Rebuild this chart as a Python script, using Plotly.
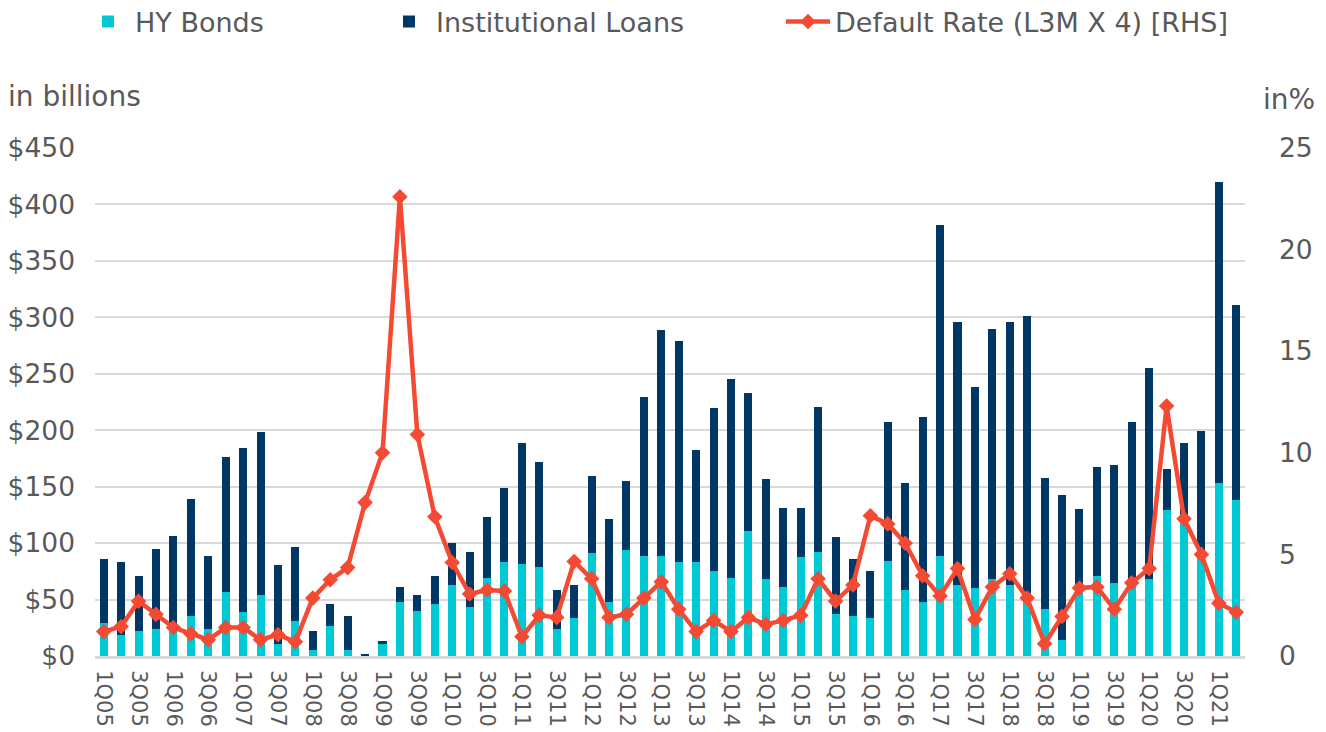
import plotly.graph_objects as go

quarters = [f"{q}Q{y:02d}" for y in range(5, 22) for q in range(1, 5)][:66]

total_issuance = [86, 83, 71, 95, 106, 139, 89, 176, 184, 198, 81, 97, 22, 46, 35, 2,
                  13.5, 61.5, 54, 71, 100, 92, 123, 149, 188.5, 172, 58.5, 63, 159.5, 121, 155, 229,
                  288.5, 279, 182.5, 219.5, 245.5, 233, 156.5, 131.5, 131.5, 220.5, 105.5, 85.5, 75, 207,
                  153.5, 212, 382, 295.5, 238, 290, 296, 301, 158, 143, 130.5, 167, 169, 207,
                  255, 165.5, 188.5, 199.5, 420, 311]
hy_bonds = [29, 19, 22, 23.5, 27, 35.5, 23.5, 57, 39, 54, 11, 31, 5, 26.5, 5, 0.5,
            11, 48, 40, 46.5, 63, 43, 69, 83, 81.5, 78.5, 23.5, 34, 91, 48, 94, 89,
            89, 83, 83, 75.5, 69.5, 110.5, 68, 61.5, 87.5, 92, 37, 35.5, 34, 84.5,
            58.5, 48, 89, 63, 60, 68, 63, 55.5, 42, 14, 58.5, 71, 64.5, 65,
            68, 129, 122, 90, 153.5, 138]
inst_loans = [round(t - h, 2) for t, h in zip(total_issuance, hy_bonds)]
default_rate = [1.2, 1.45, 2.7, 2.05, 1.4, 1.1, 0.8, 1.4, 1.4, 0.8, 1.05, 0.7, 2.85, 3.75, 4.35, 7.55,
                10.0, 22.6, 10.9, 6.85, 4.6, 3.05, 3.25, 3.2, 0.95, 2.0, 1.9, 4.65, 3.8, 1.9, 2.05, 2.85,
                3.65, 2.3, 1.2, 1.75, 1.2, 1.9, 1.55, 1.75, 2.0, 3.8, 2.7, 3.5, 6.9, 6.5,
                5.55, 3.95, 2.95, 4.3, 1.8, 3.4, 4.05, 2.85, 0.6, 1.95, 3.35, 3.4, 2.3, 3.6,
                4.3, 12.3, 6.75, 5.0, 2.6, 2.15]

tick_labels = quarters[::2]
left_ticks = list(range(0, 451, 50))
right_ticks = list(range(0, 26, 5))

FONT = "DejaVu Sans"
GREY = "#595959"
W, H = 1326, 732
ML, MR, MT, MB = 87, 89, 140, 84
PW, PH = W - ML - MR, H - MT - MB


def px_x(x):
    return (x - ML) / PW


def px_y(y):
    return (H - MB - y) / PH


fig = go.Figure()
fig.add_trace(go.Bar(x=quarters, y=hy_bonds, name="HY Bonds", marker_color="#00C9D6",
                     marker_line_width=0, legend="legend"))
fig.add_trace(go.Bar(x=quarters, y=inst_loans, name="Institutional Loans", marker_color="#003764",
                     marker_line_width=0, legend="legend2"))
fig.add_trace(go.Scatter(x=quarters, y=default_rate, name="Default Rate (L3M X 4) [RHS]",
                         yaxis="y2", mode="lines+markers", legend="legend3",
                         line=dict(color="#F44A33", width=4.5),
                         marker=dict(symbol="diamond", size=12, color="#F44A33")))


def leg(xpx):
    return dict(orientation="h", xref="container", yref="container",
                x=xpx / W, xanchor="left", y=1 - 14 / H, yanchor="middle",
                font=dict(size=27, color=GREY, family=FONT), itemwidth=44,
                bgcolor="rgba(0,0,0,0)")


fig.update_layout(
    width=W, height=H,
    barmode="stack", bargap=0.54,
    plot_bgcolor="white", paper_bgcolor="white",
    font=dict(family=FONT, color=GREY, size=26),
    margin=dict(l=ML, r=MR, t=MT, b=MB, autoexpand=False),
    showlegend=True,
    legend=leg(73), legend2=leg(374), legend3=leg(773),
    xaxis=dict(type="category", range=[-0.5, len(quarters) - 0.5], tickmode="array",
               tickvals=tick_labels, ticktext=tick_labels,
               tickangle=90, tickfont=dict(size=21, color=GREY), showgrid=False,
               showline=True, linecolor="#D9D9D9", linewidth=3, ticks="", automargin=False,
               ticklabelstandoff=7),
    yaxis=dict(range=[0, 450], tickvals=left_ticks, ticktext=[f"${v}" for v in left_ticks],
               showgrid=True, gridcolor="#D9D9D9", gridwidth=2, zeroline=False,
               tickfont=dict(size=26.5, color=GREY), ticks="", automargin=False,
               ticklabelstandoff=19),
    yaxis2=dict(range=[0, 25], tickvals=right_ticks, overlaying="y", side="right",
                showgrid=False, zeroline=False, tickfont=dict(size=26.5, color=GREY),
                automargin=False, ticklabelstandoff=33),
    annotations=[
        dict(text="in billions", xref="paper", yref="paper", x=px_x(-2), y=px_y(89),
             xanchor="left", yanchor="middle", showarrow=False, font=dict(size=28, color=GREY)),
        dict(text="in%", xref="paper", yref="paper", x=px_x(1309), y=px_y(92),
             xanchor="right", yanchor="middle", showarrow=False, font=dict(size=28, color=GREY)),
    ],
)

fig.write_html("out.html")
